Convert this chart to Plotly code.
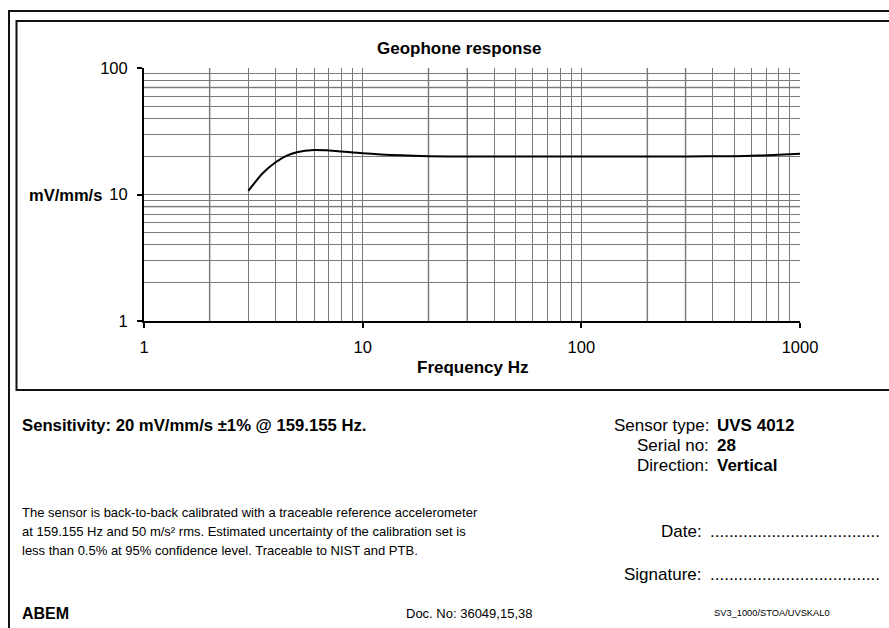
import plotly.graph_objects as go

# ---- data ----
freq_hz = [3.0, 3.5, 4.0, 4.5, 5.0, 6.0, 7.0, 8.0, 10, 15, 20, 30, 50, 100, 200, 300, 500, 650, 800, 1000]
sensitivity = [10.7, 14.8, 18.0, 20.3, 21.6, 22.5, 22.3, 21.9, 21.2, 20.4, 20.1, 19.95, 19.95, 19.95, 20.0, 20.0, 20.1, 20.3, 20.6, 21.0]
x_ticks = [1, 10, 100, 1000]
y_ticks = [1, 10, 100]
light_grid_x = [2, 20, 30, 200, 300]
light_grid_y = [70, 8]

W, H = 889, 628
PL, PR, PT, PB = 144, 800, 68, 321  # plot area pixel box
FONT = "Arial, Liberation Sans, sans-serif"


def fx(x):
    return (x - PL) / (PR - PL)


def fy(y):
    return (PB - y) / (PB - PT)


fig = go.Figure()
fig.add_trace(go.Scatter(
    x=freq_hz, y=sensitivity, mode="lines",
    line=dict(color="black", width=2, shape="spline", smoothing=0.8),
    hoverinfo="skip", showlegend=False,
))

grid_col = "#7a7a7a"
fig.update_xaxes(
    type="log", range=[0, 3],
    tickvals=x_ticks, ticktext=[str(v) for v in x_ticks],
    showline=True, linecolor="black", linewidth=2,
    ticks="outside", ticklen=5, tickwidth=1.5, tickcolor="black",
    showgrid=True, gridcolor=grid_col, gridwidth=1,
    minor=dict(dtick="D1", showgrid=True, gridcolor=grid_col, gridwidth=1, ticks=""),
    tickfont=dict(family=FONT, size=16.5, color="black"),
    ticklabelstandoff=5, zeroline=False,
)
fig.update_yaxes(
    type="log", range=[0, 2],
    tickvals=y_ticks, ticktext=[str(v) for v in y_ticks],
    showline=True, linecolor="black", linewidth=2,
    ticks="outside", ticklen=5, tickwidth=1.5, tickcolor="black",
    showgrid=True, gridcolor=grid_col, gridwidth=1,
    minor=dict(dtick="D1", showgrid=True, gridcolor=grid_col, gridwidth=1, ticks=""),
    tickfont=dict(family=FONT, size=16.5, color="black"),
    ticklabelstandoff=6, zeroline=False,
)

shapes = []
for v in light_grid_x:
    shapes.append(dict(type="line", xref="x", yref="paper", x0=v, x1=v, y0=0, y1=1,
                       line=dict(color="#c4c4c4", width=2), layer="between"))
for v in light_grid_y:
    shapes.append(dict(type="line", xref="paper", yref="y", x0=0, x1=1, y0=v, y1=v,
                       line=dict(color="#c4c4c4", width=2), layer="between"))

frame_col = "#111111"
# outer frame (top + left)
shapes.append(dict(type="path", xref="paper", yref="paper",
                   path=f"M {fx(W + 5)} {fy(11)} L {fx(9)} {fy(11)} L {fx(9)} {fy(H + 5)}",
                   line=dict(color=frame_col, width=2)))
# inner chart frame
shapes.append(dict(type="path", xref="paper", yref="paper",
                   path=f"M {fx(W + 5)} {fy(21)} L {fx(16.5)} {fy(21)} L {fx(16.5)} {fy(390)} L {fx(W + 5)} {fy(390)}",
                   line=dict(color=frame_col, width=2)))


def ann(text, x, y, size, xanchor="left", bold=False):
    t = f"<b>{text}</b>" if bold else text
    return dict(text=t, x=fx(x), y=fy(y), xref="paper", yref="paper",
                xanchor=xanchor, yanchor="middle", showarrow=False,
                font=dict(family=FONT, size=size, color="black"))


annotations = [
    ann("Geophone response", 459, 48, 17, "center", True),
    ann("mV/mm/s", 104, 195, 16.5, "right", True),
    ann("Frequency Hz", 472, 367, 17, "center", True),
    ann("Sensitivity: 20 mV/mm/s ±1% @ 159.155 Hz.", 20, 425, 16.7, "left", True),
    ann("Sensor type:", 711, 425, 17, "right"),
    ann("UVS 4012", 715, 425, 17, "left", True),
    ann("Serial no:", 711, 445, 17, "right"),
    ann("28", 715, 445, 17, "left", True),
    ann("Direction:", 711, 465, 17, "right"),
    ann("Vertical", 715, 465, 17, "left", True),
    ann("The sensor is back-to-back calibrated with a traceable reference accelerometer", 20, 512, 13),
    ann("at 159.155 Hz and 50 m/s² rms. Estimated uncertainty of the calibration set is", 20, 531, 13),
    ann("less than 0.5% at 95% confidence level. Traceable to NIST and PTB.", 20, 550, 13),
    ann("Date:", 704, 531, 17, "right"),
    ann("." * 36, 708, 531, 17, "left"),
    ann("Signature:", 704, 574, 17, "right"),
    ann("." * 36, 708, 574, 17, "left"),
    ann("ABEM", 20, 613, 16, "left", True),
    ann("Doc. No: 36049,15,38", 404, 613, 13, "left"),
    ann("SV3_1000/STOA/UVSKAL0", 712, 613, 9.3, "left"),
]

fig.update_layout(
    width=W, height=H,
    margin=dict(l=PL, r=W - PR, t=PT, b=H - PB, pad=0),
    paper_bgcolor="white", plot_bgcolor="white",
    shapes=shapes, annotations=annotations,
    font=dict(family=FONT, color="black"),
    showlegend=False,
)

fig.write_html("out.html", config={"displayModeBar": False},
               post_script="document.body.style.margin='0px';")
